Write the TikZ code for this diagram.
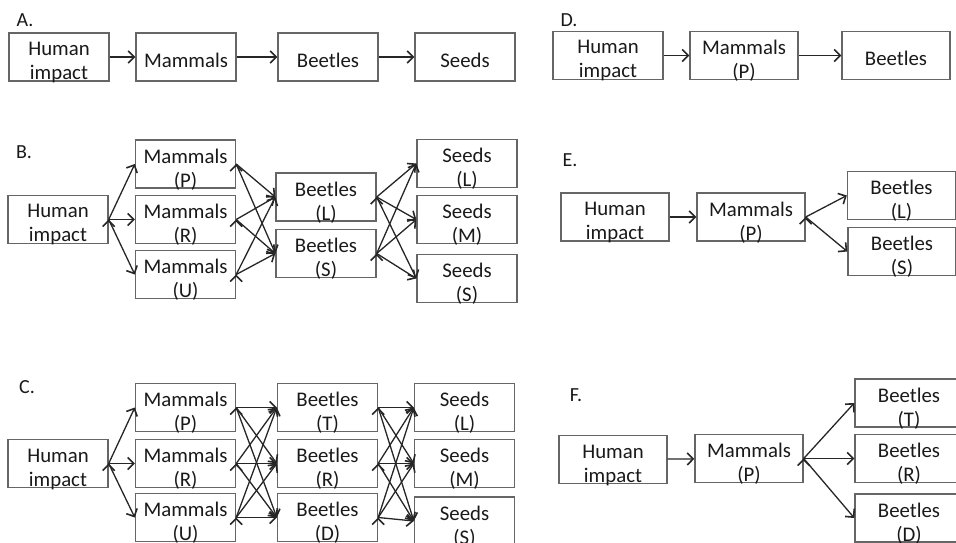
\documentclass[tikz,border=0pt]{standalone}
\usepackage{fontspec}
\setmainfont{Carlito}
\usetikzlibrary{arrows.meta}

\tikzset{
	box/.style={draw=black!60, line width=1.4pt, minimum height=48pt, inner sep=0pt},
	boxA/.style={box, minimum width=100pt},
	boxD/.style={box, minimum width=108pt},
	two/.style={align=center, text=black!90, yshift=-5.5pt, inner sep=0pt},
	one/.style={text=black!90, yshift=-3pt, inner sep=0pt},
	arr/.style={line width=1.3pt, draw=black!85, -{Straight Barb[length=6pt,width=12pt,line width=1.6pt]}},
	panel/.style={font=\fontsize{20}{22}\selectfont, text=black!90, inner sep=0pt}
}

\begin{document}
\begin{tikzpicture}[x=1pt,y=-1pt,font=\fontsize{20.8}{24}\selectfont]
	\useasboundingbox (0,0) rectangle (956,543);
	
	% A.
	\node[panel] (Alab) at (25,20) {A.};
	\node[boxA,label={[two]center:Human\\impact}] (Ahum) at (59,57) {};
	\node[boxA,label={[one]center:Mammals}] (Amam) at (186,57) {};
	\node[boxA,label={[one]center:Beetles}] (Abee) at (328,57) {};
	\node[boxA,label={[one]center:Seeds}] (Asee) at (465,57) {};
	\draw[arr] (Ahum) -- (Amam);
	\draw[arr] (Amam) -- (Abee);
	\draw[arr] (Abee) -- (Asee);
	
	% B.
	\node[panel] (Blab) at (24,152) {B.};
	\node[boxA,label={[two]center:Human\\impact}] (Bhum) at (58,219.5) {};
	\node[boxA,label={[two]center:Mammals\\(P)}] (BmP) at (185.5,164) {};
	\node[boxA,label={[two]center:Mammals\\(R)}] (BmR) at (185.5,219.5) {};
	\node[boxA,label={[two]center:Mammals\\(U)}] (BmU) at (185.5,274.5) {};
	\node[boxA,label={[two]center:Beetles\\(L)}] (BbL) at (326,197) {};
	\node[boxA,label={[two]center:Beetles\\(S)}] (BbS) at (326,253.5) {};
	\node[boxA,label={[two]center:Seeds\\(L)}] (BsL) at (467,163.5) {};
	\node[boxA,label={[two]center:Seeds\\(M)}] (BsM) at (467,219.5) {};
	\node[boxA,label={[two]center:Seeds\\(S)}] (BsS) at (467,278.5) {};
	\path[arr] (Bhum.east) edge (BmP.west) edge (BmR.west) edge (BmU.west);
	\path[arr] (BmP.east) edge (BbL.west) edge (BbS.west);
	\path[arr] (BmR.east) edge (BbL.west) edge (BbS.west);
	\path[arr] (BmU.east) edge (BbL.west) edge (BbS.west);
	\path[arr] (BbL.east) edge (BsL.west) edge (BsM.west) edge (BsS.west);
	\path[arr] (BbS.east) edge (BsL.west) edge (BsM.west) edge (BsS.west);
	
	% C.
	\node[panel] (Clab) at (27,387) {C.};
	\node[boxA,label={[two]center:Human\\impact}] (Chum) at (58,463.5) {};
	\node[boxA,label={[two]center:Mammals\\(P)}] (CmP) at (185.5,407.5) {};
	\node[boxA,label={[two]center:Mammals\\(R)}] (CmR) at (185.5,463.5) {};
	\node[boxA,label={[two]center:Mammals\\(U)}] (CmU) at (185.5,517.5) {};
	\node[boxA,label={[two]center:Beetles\\(T)}] (CbT) at (327.5,407.5) {};
	\node[boxA,label={[two]center:Beetles\\(R)}] (CbR) at (327.5,463.5) {};
	\node[boxA,label={[two]center:Beetles\\(D)}] (CbD) at (327.5,517.5) {};
	\node[boxA,label={[two]center:Seeds\\(L)}] (CsL) at (464.5,407.5) {};
	\node[boxA,label={[two]center:Seeds\\(M)}] (CsM) at (464.5,463.5) {};
	\node[boxA,label={[two]center:Seeds\\(S)}] (CsS) at (464.5,521) {};
	\path[arr] (Chum.east) edge (CmP.west) edge (CmR.west) edge (CmU.west);
	\path[arr] (CmP.east) edge (CbT.west) edge (CbR.west) edge (CbD.west);
	\path[arr] (CmR.east) edge (CbT.west) edge (CbR.west) edge (CbD.west);
	\path[arr] (CmU.east) edge (CbT.west) edge (CbR.west) edge (CbD.west);
	\path[arr] (CbT.east) edge (CsL.west) edge (CsM.west) edge (CsS.west);
	\path[arr] (CbR.east) edge (CsL.west) edge (CsM.west) edge (CsS.west);
	\path[arr] (CbD.east) edge (CsL.west) edge (CsM.west) edge (CsS.west);
	
	% D.
	\node[panel] (Dlab) at (569,20) {D.};
	\node[boxD,minimum width=110pt,label={[two]center:Human\\impact}] (Dhum) at (608,55.5) {};
	\node[boxD,label={[two]center:Mammals\\(P)}] (Dmam) at (744,55.5) {};
	\node[boxD,label={[one]center:Beetles}] (Dbee) at (896,55.5) {};
	\draw[arr] (Dhum) -- (Dmam);
	\draw[arr] (Dmam) -- (Dbee);
	
	% E.
	\node[panel] (Elab) at (570,160) {E.};
	\node[boxD,label={[two]center:Human\\impact}] (Ehum) at (615,217) {};
	\node[boxD,label={[two]center:Mammals\\(P)}] (Emam) at (751,217) {};
	\node[boxD,label={[two]center:Beetles\\(L)}] (EbL) at (901.5,195.5) {};
	\node[boxD,label={[two]center:Beetles\\(S)}] (EbS) at (902,251.5) {};
	\draw[arr] (Ehum) -- (Emam);
	\path[arr] (Emam.east) edge (EbL.west) edge (EbS.west);
	
	% F.
	\node[panel] (Flab) at (576,395) {F.};
	\node[boxD,label={[two]center:Human\\impact}] (Fhum) at (613,459.5) {};
	\node[boxD,label={[two]center:Mammals\\(P)}] (Fmam) at (749,458.5) {};
	\node[boxD,label={[two]center:Beetles\\(T)}] (FbT) at (909,403) {};
	\node[boxD,label={[two]center:Beetles\\(R)}] (FbR) at (909,458.5) {};
	\node[boxD,label={[two]center:Beetles\\(D)}] (FbD) at (909,518) {};
	\draw[arr] (Fhum) -- (Fmam);
	\path[arr] (Fmam.east) edge (FbT.west) edge (FbR.west) edge (FbD.west);
	
\end{tikzpicture}
\end{document}
